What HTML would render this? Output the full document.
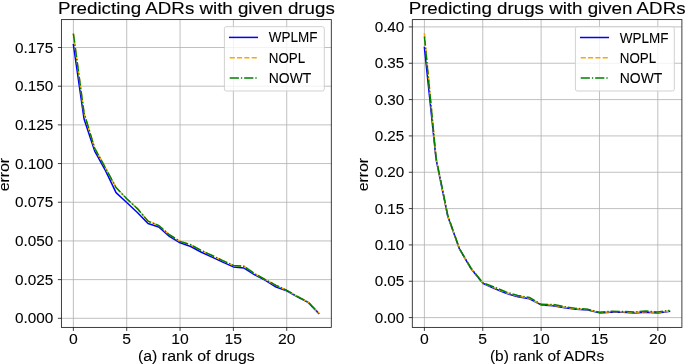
<!DOCTYPE html>
<html><head><meta charset="utf-8"><style>
html,body{margin:0;padding:0;background:#fff;}
body{width:685px;height:364px;overflow:hidden;}
svg{display:block;will-change:transform;}
text{font-family:"Liberation Sans",sans-serif;fill:#000;stroke:#000;stroke-width:0.08px;}
</style></head><body>
<svg width="685" height="364" viewBox="0 0 685 364">
<rect width="685" height="364" fill="#fff"/>
<path d="M73.37 19.60V327.40M126.71 19.60V327.40M180.05 19.60V327.40M233.39 19.60V327.40M286.73 19.60V327.40M61.40 318.30H331.30M61.40 279.62H331.30M61.40 240.93H331.30M61.40 202.25H331.30M61.40 163.56H331.30M61.40 124.88H331.30M61.40 86.19H331.30M61.40 47.50H331.30" stroke="#b0b0b0" stroke-width="0.8" fill="none"/>
<polyline points="73.37,44.72 84.04,118.99 94.70,151.03 105.37,170.37 116.04,192.65 126.71,202.55 137.38,212.46 148.04,223.44 158.71,227.00 169.38,236.44 180.05,242.79 190.72,246.50 201.38,252.23 212.05,257.18 222.72,262.13 233.39,266.93 244.06,268.01 254.72,274.82 265.39,280.39 276.06,287.04 286.73,290.76 297.40,296.79 308.06,302.36 318.73,313.35" stroke="#0000ff" stroke-width="1.5" fill="none" stroke-linejoin="round" stroke-linecap="square"/>
<polyline points="73.37,33.58 84.04,112.96 94.70,148.24 105.37,167.74 116.04,187.54 126.71,198.69 137.38,208.59 148.04,221.12 158.71,225.46 169.38,234.74 180.05,241.39 190.72,244.80 201.38,250.52 212.05,255.48 222.72,260.58 233.39,265.38 244.06,266.31 254.72,273.73 265.39,279.62 276.06,285.34 286.73,290.29 297.40,296.48 308.06,302.05 318.73,313.19" stroke="#ffa500" stroke-width="1.5" fill="none" stroke-linejoin="round" stroke-linecap="butt" stroke-dasharray="5.1 2.23"/>
<polyline points="73.37,33.58 84.04,112.96 94.70,148.24 105.37,167.74 116.04,187.54 126.71,198.69 137.38,208.59 148.04,221.12 158.71,225.46 169.38,234.74 180.05,241.39 190.72,244.80 201.38,250.52 212.05,255.48 222.72,260.58 233.39,265.38 244.06,266.31 254.72,273.73 265.39,279.62 276.06,285.34 286.73,290.29 297.40,296.48 308.06,302.05 318.73,313.19" stroke="#008000" stroke-width="1.5" fill="none" stroke-linejoin="round" stroke-linecap="butt" stroke-dasharray="9.2 2.0 1.3 1.95"/>
<rect x="224.4" y="26.7" width="99.90" height="64.30" rx="2" ry="2" fill="#ffffff" fill-opacity="0.8" stroke="#cccccc" stroke-width="0.9"/>
<path d="M229.70 37.40H257.30" stroke="#0000ff" stroke-width="1.5" fill="none" stroke-linecap="square"/>
<text x="268.80" y="42.40" font-size="14.45" text-anchor="start" textLength="48.72" lengthAdjust="spacingAndGlyphs">WPLMF</text>
<path d="M229.70 57.70H257.30" stroke="#ffa500" stroke-width="1.5" fill="none" stroke-linecap="butt" stroke-dasharray="5.1 2.23"/>
<text x="268.80" y="62.70" font-size="14.45" text-anchor="start" textLength="36.46" lengthAdjust="spacingAndGlyphs">NOPL</text>
<path d="M229.70 78.00H257.30" stroke="#008000" stroke-width="1.5" fill="none" stroke-linecap="butt" stroke-dasharray="9.2 2.0 1.3 1.95"/>
<text x="268.80" y="83.00" font-size="14.45" text-anchor="start" textLength="42.50" lengthAdjust="spacingAndGlyphs">NOWT</text>
<rect x="61.40" y="19.60" width="269.90" height="307.80" fill="none" stroke="#1e1e1e" stroke-width="0.85"/>
<path d="M73.37 327.40v3.5M126.71 327.40v3.5M180.05 327.40v3.5M233.39 327.40v3.5M286.73 327.40v3.5M61.40 318.30h-3.5M61.40 279.62h-3.5M61.40 240.93h-3.5M61.40 202.25h-3.5M61.40 163.56h-3.5M61.40 124.88h-3.5M61.40 86.19h-3.5M61.40 47.50h-3.5" stroke="#1e1e1e" stroke-width="0.85" fill="none"/>
<text x="73.37" y="344.00" font-size="15.14" text-anchor="middle" textLength="8.75" lengthAdjust="spacingAndGlyphs">0</text>
<text x="126.71" y="344.00" font-size="15.14" text-anchor="middle" textLength="8.75" lengthAdjust="spacingAndGlyphs">5</text>
<text x="180.05" y="344.00" font-size="15.14" text-anchor="middle" textLength="17.50" lengthAdjust="spacingAndGlyphs">10</text>
<text x="233.39" y="344.00" font-size="15.14" text-anchor="middle" textLength="17.50" lengthAdjust="spacingAndGlyphs">15</text>
<text x="286.73" y="344.00" font-size="15.14" text-anchor="middle" textLength="17.50" lengthAdjust="spacingAndGlyphs">20</text>
<text x="53.40" y="323.40" font-size="15.14" text-anchor="end" textLength="38.36" lengthAdjust="spacingAndGlyphs">0.000</text>
<text x="53.40" y="284.72" font-size="15.14" text-anchor="end" textLength="38.36" lengthAdjust="spacingAndGlyphs">0.025</text>
<text x="53.40" y="246.03" font-size="15.14" text-anchor="end" textLength="38.36" lengthAdjust="spacingAndGlyphs">0.050</text>
<text x="53.40" y="207.34" font-size="15.14" text-anchor="end" textLength="38.36" lengthAdjust="spacingAndGlyphs">0.075</text>
<text x="53.40" y="168.66" font-size="15.14" text-anchor="end" textLength="38.36" lengthAdjust="spacingAndGlyphs">0.100</text>
<text x="53.40" y="129.97" font-size="15.14" text-anchor="end" textLength="38.36" lengthAdjust="spacingAndGlyphs">0.125</text>
<text x="53.40" y="91.29" font-size="15.14" text-anchor="end" textLength="38.36" lengthAdjust="spacingAndGlyphs">0.150</text>
<text x="53.40" y="52.60" font-size="15.14" text-anchor="end" textLength="38.36" lengthAdjust="spacingAndGlyphs">0.175</text>
<text x="196.35" y="13.70" font-size="17.32" text-anchor="middle" textLength="276.90" lengthAdjust="spacingAndGlyphs" style="stroke-width:0.12px">Predicting ADRs with given drugs</text>
<text x="196.35" y="361.00" font-size="14.45" text-anchor="middle" textLength="116.76" lengthAdjust="spacingAndGlyphs">(a) rank of drugs</text>
<g transform="translate(9.30,174.60) rotate(-90)">
<text x="0.00" y="0.00" font-size="14.45" text-anchor="middle" textLength="33.50" lengthAdjust="spacingAndGlyphs">error</text>
</g>
<path d="M424.40 19.60V327.40M482.76 19.60V327.40M541.11 19.60V327.40M599.47 19.60V327.40M657.82 19.60V327.40M412.30 317.60H681.90M412.30 281.26H681.90M412.30 244.93H681.90M412.30 208.59H681.90M412.30 172.25H681.90M412.30 135.91H681.90M412.30 99.58H681.90M412.30 63.24H681.90M412.30 26.90H681.90" stroke="#b0b0b0" stroke-width="0.8" fill="none"/>
<polyline points="424.40,47.47 436.08,159.39 447.75,216.36 459.42,248.99 471.09,268.84 482.76,283.30 494.43,288.53 506.10,293.40 517.77,296.81 529.44,298.78 541.11,304.95 552.79,305.83 564.46,307.79 576.13,309.17 587.80,309.90 599.47,312.88 611.14,312.37 622.81,312.22 634.48,313.02 646.15,312.22 657.82,313.02 669.50,311.42" stroke="#0000ff" stroke-width="1.5" fill="none" stroke-linejoin="round" stroke-linecap="square"/>
<polyline points="424.40,33.08 436.08,158.44 447.75,215.86 459.42,248.78 471.09,268.54 482.76,283.01 494.43,287.80 506.10,292.67 517.77,296.09 529.44,298.12 541.11,304.59 552.79,305.10 564.46,307.21 576.13,308.81 587.80,309.61 599.47,312.51 611.14,311.79 622.81,311.79 634.48,312.51 646.15,311.57 657.82,312.51 669.50,310.91" stroke="#ffa500" stroke-width="1.5" fill="none" stroke-linejoin="round" stroke-linecap="butt" stroke-dasharray="5.1 2.23"/>
<polyline points="424.40,36.49 436.08,157.72 447.75,215.13 459.42,248.56 471.09,268.18 482.76,282.72 494.43,287.22 506.10,292.02 517.77,295.43 529.44,297.47 541.11,304.30 552.79,304.45 564.46,306.63 576.13,308.37 587.80,309.32 599.47,312.22 611.14,311.28 622.81,311.42 634.48,312.00 646.15,310.99 657.82,312.00 669.50,310.41" stroke="#008000" stroke-width="1.5" fill="none" stroke-linejoin="round" stroke-linecap="butt" stroke-dasharray="9.2 2.0 1.3 1.95"/>
<rect x="575.4" y="26.8" width="98.90" height="64.20" rx="2" ry="2" fill="#ffffff" fill-opacity="0.8" stroke="#cccccc" stroke-width="0.9"/>
<path d="M580.70 37.50H608.30" stroke="#0000ff" stroke-width="1.5" fill="none" stroke-linecap="square"/>
<text x="619.80" y="42.50" font-size="14.45" text-anchor="start" textLength="48.72" lengthAdjust="spacingAndGlyphs">WPLMF</text>
<path d="M580.70 57.80H608.30" stroke="#ffa500" stroke-width="1.5" fill="none" stroke-linecap="butt" stroke-dasharray="5.1 2.23"/>
<text x="619.80" y="62.80" font-size="14.45" text-anchor="start" textLength="36.46" lengthAdjust="spacingAndGlyphs">NOPL</text>
<path d="M580.70 78.10H608.30" stroke="#008000" stroke-width="1.5" fill="none" stroke-linecap="butt" stroke-dasharray="9.2 2.0 1.3 1.95"/>
<text x="619.80" y="83.10" font-size="14.45" text-anchor="start" textLength="42.50" lengthAdjust="spacingAndGlyphs">NOWT</text>
<rect x="412.30" y="19.60" width="269.60" height="307.80" fill="none" stroke="#1e1e1e" stroke-width="0.85"/>
<path d="M424.40 327.40v3.5M482.76 327.40v3.5M541.11 327.40v3.5M599.47 327.40v3.5M657.82 327.40v3.5M412.30 317.60h-3.5M412.30 281.26h-3.5M412.30 244.93h-3.5M412.30 208.59h-3.5M412.30 172.25h-3.5M412.30 135.91h-3.5M412.30 99.58h-3.5M412.30 63.24h-3.5M412.30 26.90h-3.5" stroke="#1e1e1e" stroke-width="0.85" fill="none"/>
<text x="424.40" y="344.00" font-size="15.14" text-anchor="middle" textLength="8.75" lengthAdjust="spacingAndGlyphs">0</text>
<text x="482.76" y="344.00" font-size="15.14" text-anchor="middle" textLength="8.75" lengthAdjust="spacingAndGlyphs">5</text>
<text x="541.11" y="344.00" font-size="15.14" text-anchor="middle" textLength="17.50" lengthAdjust="spacingAndGlyphs">10</text>
<text x="599.47" y="344.00" font-size="15.14" text-anchor="middle" textLength="17.50" lengthAdjust="spacingAndGlyphs">15</text>
<text x="657.82" y="344.00" font-size="15.14" text-anchor="middle" textLength="17.50" lengthAdjust="spacingAndGlyphs">20</text>
<text x="404.30" y="322.70" font-size="15.14" text-anchor="end" textLength="29.62" lengthAdjust="spacingAndGlyphs">0.00</text>
<text x="404.30" y="286.36" font-size="15.14" text-anchor="end" textLength="29.62" lengthAdjust="spacingAndGlyphs">0.05</text>
<text x="404.30" y="250.03" font-size="15.14" text-anchor="end" textLength="29.62" lengthAdjust="spacingAndGlyphs">0.10</text>
<text x="404.30" y="213.69" font-size="15.14" text-anchor="end" textLength="29.62" lengthAdjust="spacingAndGlyphs">0.15</text>
<text x="404.30" y="177.35" font-size="15.14" text-anchor="end" textLength="29.62" lengthAdjust="spacingAndGlyphs">0.20</text>
<text x="404.30" y="141.01" font-size="15.14" text-anchor="end" textLength="29.62" lengthAdjust="spacingAndGlyphs">0.25</text>
<text x="404.30" y="104.68" font-size="15.14" text-anchor="end" textLength="29.62" lengthAdjust="spacingAndGlyphs">0.30</text>
<text x="404.30" y="68.34" font-size="15.14" text-anchor="end" textLength="29.62" lengthAdjust="spacingAndGlyphs">0.35</text>
<text x="404.30" y="32.00" font-size="15.14" text-anchor="end" textLength="29.62" lengthAdjust="spacingAndGlyphs">0.40</text>
<text x="547.10" y="13.70" font-size="17.32" text-anchor="middle" textLength="276.90" lengthAdjust="spacingAndGlyphs" style="stroke-width:0.12px">Predicting drugs with given ADRs</text>
<text x="547.10" y="361.00" font-size="14.45" text-anchor="middle" textLength="114.29" lengthAdjust="spacingAndGlyphs">(b) rank of ADRs</text>
<g transform="translate(368.30,174.60) rotate(-90)">
<text x="0.00" y="0.00" font-size="14.45" text-anchor="middle" textLength="33.50" lengthAdjust="spacingAndGlyphs">error</text>
</g>
</svg>
</body></html>
